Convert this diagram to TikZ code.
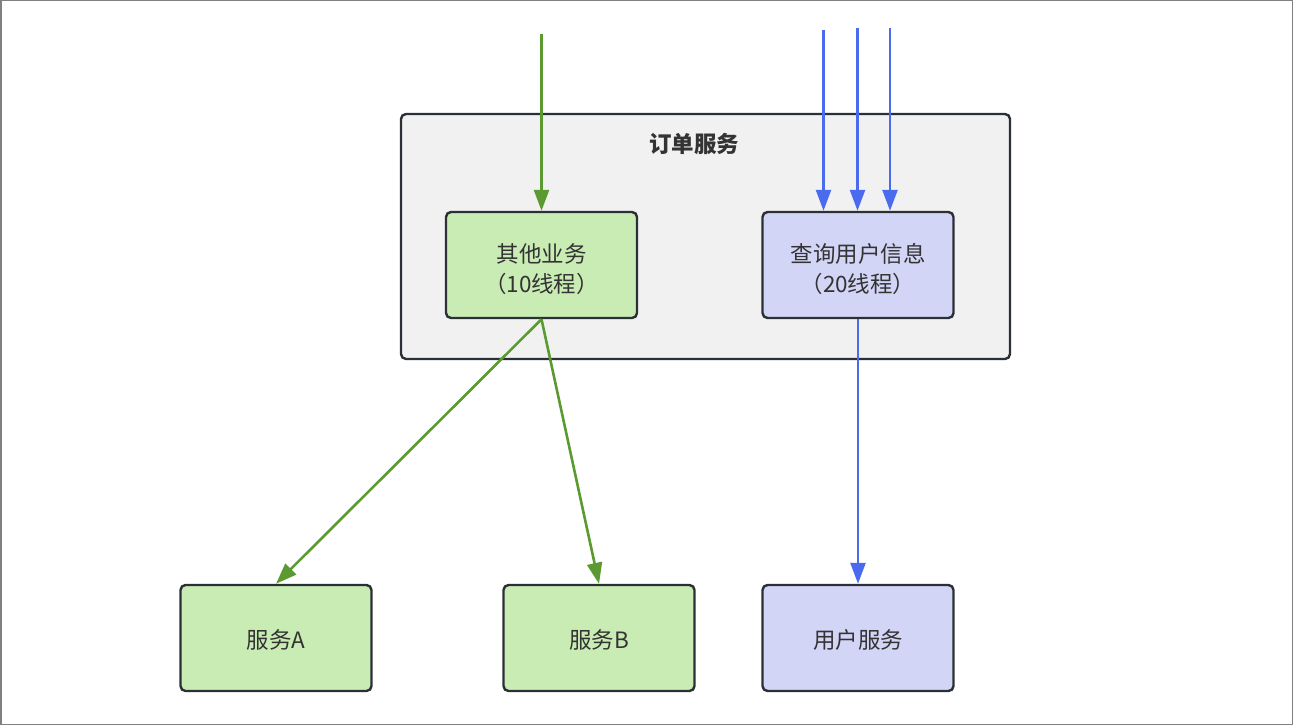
\documentclass[tikz,border=0pt]{standalone}
\usepackage{fontspec}
\setmainfont{Noto Sans CJK SC}
\usetikzlibrary{arrows.meta}
\definecolor{gline}{HTML}{5A9A30}
\definecolor{bline}{HTML}{4A6BEE}
\definecolor{gfill}{HTML}{C9ECB4}
\definecolor{bfill}{HTML}{D3D5F7}
\definecolor{cfill}{HTML}{F1F1F1}
\definecolor{edge}{HTML}{2B2F36}
\tikzset{
  box/.style={draw=edge, line width=2.4pt, rounded corners=5pt, minimum width=191pt, minimum height=106pt, inner sep=0pt, align=center, font=\fontsize{22.5}{30}\selectfont, text=black!80},
  gbox/.style={box, fill=gfill},
  bbox/.style={box, fill=bfill},
  garr/.style={draw=gline, line width=2.6pt, -{Triangle[length=21pt,width=15pt]}},
  barr/.style={draw=bline, line width=2.6pt, -{Triangle[length=21pt,width=15pt]}},
  lbl/.style={font=\fontsize{22.5}{30}\selectfont, text=black!80, align=center},
}
\begin{document}
\begin{tikzpicture}[x=1pt,y=-1pt]
\useasboundingbox (0,0) rectangle (1293,725);
\draw[gray, line width=1.5pt] (0.75,0.75) rectangle (1292.25,724.25);
% cluster
\draw[draw=edge, fill=cfill, line width=2.4pt, rounded corners=5pt] (401,114) rectangle (1010,359);
\node[font=\fontsize{22.5}{26}\selectfont\bfseries, text=black!80] (title) at (694,144) {订单服务};
% nodes
\node[gbox] (other) at (541.5,265) {};
\node[lbl] (otherl) at (541.5,269) {其他业务\\（10线程）};
\node[bbox] (query) at (858,265) {};
\node[lbl] (queryl) at (858,269) {查询用户信息\\（20线程）};
\node[gbox] (sa) at (276,638) {};
\node[lbl] (sal) at (276,640) {服务A};
\node[gbox] (sb) at (599,638) {};
\node[lbl] (sbl) at (599,640) {服务B};
\node[bbox] (us) at (858,638) {};
\node[lbl] (usl) at (858,640) {用户服务};
% incoming
\coordinate (gin) at (541.5,34);
\coordinate (b1) at (823.5,30);
\coordinate (b2) at (857.5,28);
\coordinate (b3) at (890,28);
\draw[garr] (gin) -- (other.north);
\draw[barr] (b1) -- (b1 |- query.north);
\draw[barr] (b2) -- (b2 |- query.north);
\draw[barr] (b3) -- (b3 |- query.north);
% outgoing
\draw[garr] (other.south) -- (sa.north);
\draw[garr] (other.south) -- (sb.north);
\draw[barr] (query.south) -- (us.north);
\end{tikzpicture}
\end{document}
